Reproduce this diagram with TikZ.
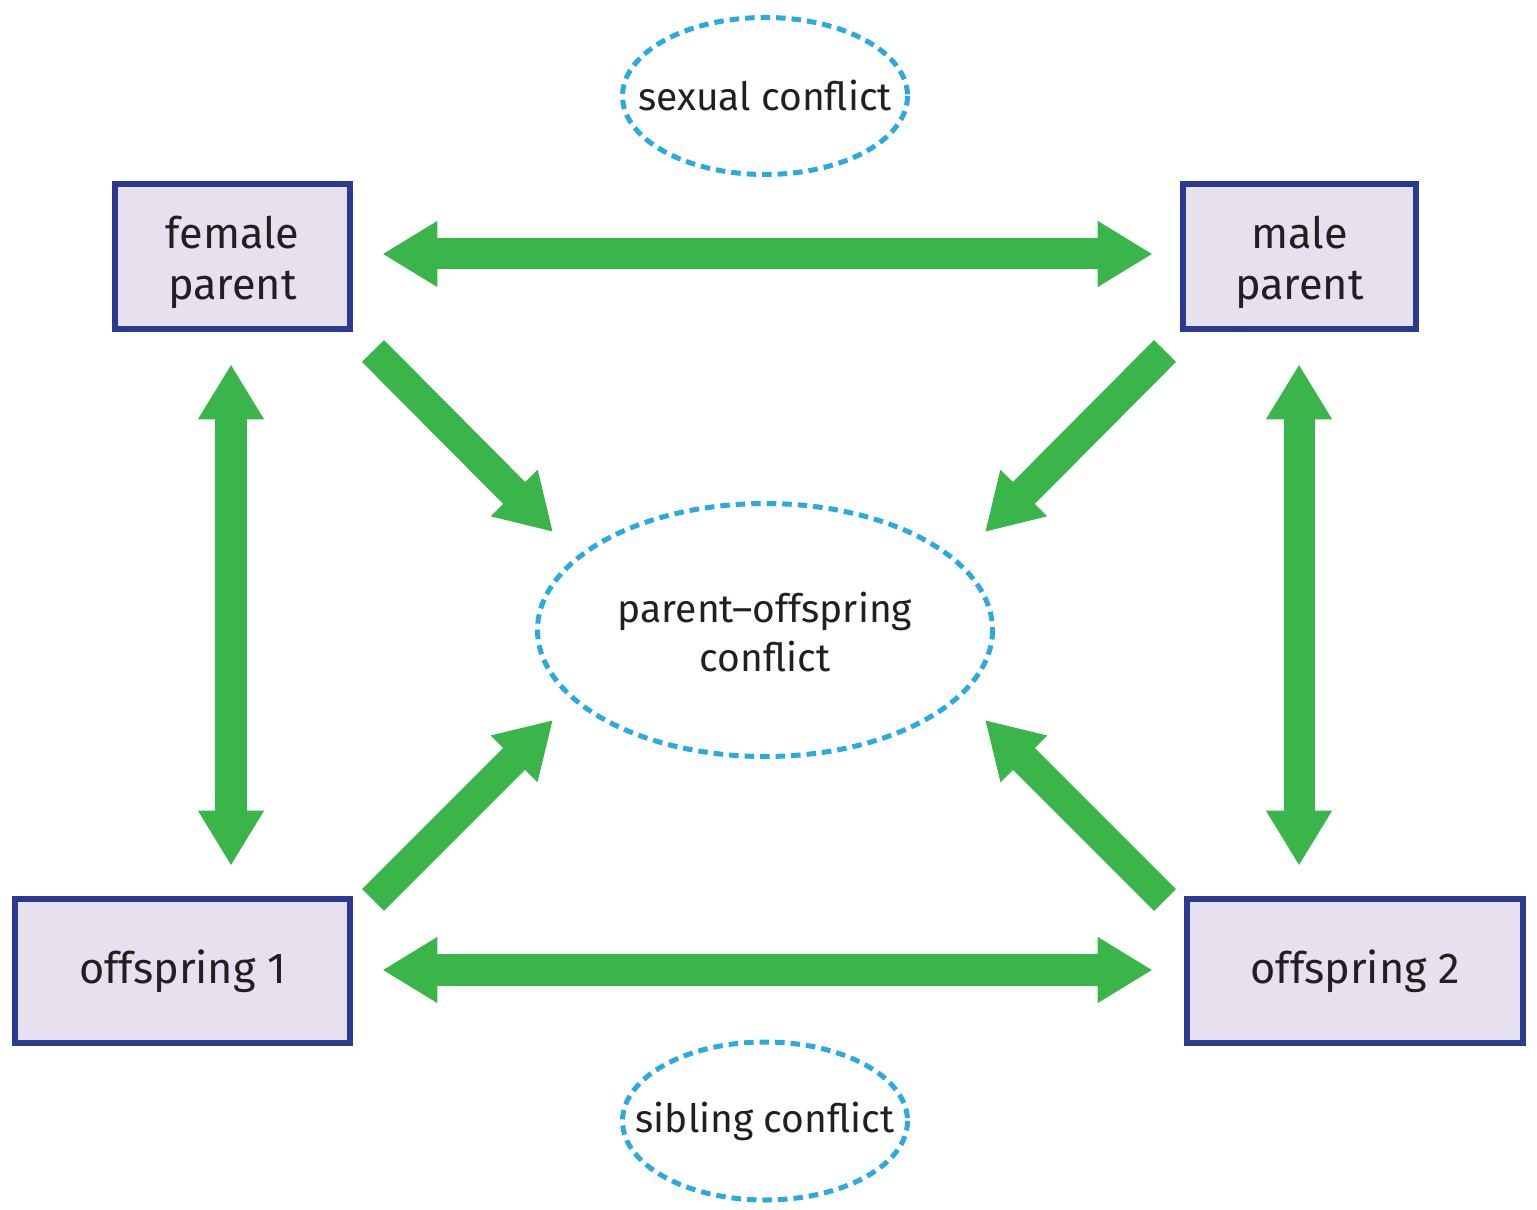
\documentclass[tikz,border=0pt]{standalone}
\usepackage{fontspec}
\setmainfont{Fira Sans}
\usetikzlibrary{arrows.meta,shapes.geometric}
\definecolor{arrgreen}{HTML}{39B54A}
\definecolor{boxblue}{HTML}{2B3990}
\definecolor{boxfill}{HTML}{E7E0EF}
\definecolor{dashblue}{HTML}{29ABE2}
\definecolor{txt}{HTML}{231F20}
\newcommand{\topstrut}{\rule{0pt}{12.5pt}}
\tikzset{
  agent/.style={draw=boxblue, fill=boxfill, line width=0.065cm, inner sep=0pt,
    align=center, text=txt, font=\fontsize{12.3pt}{14.6pt}\selectfont},
  conflabel/.style={inner sep=0pt, align=center, text=txt,
    font=\fontsize{11.1pt}{14.2pt}\selectfont},
  confring/.style={draw=dashblue, line width=0.05cm,
    dash pattern=on 0.095cm off 0.06cm},
  bigarrow/.style={draw=arrgreen, line width=0.31cm,
    -{Triangle[width=0.62cm,length=0.55cm]}},
  dblarrow/.style={draw=arrgreen, line width=0.31cm,
    {Triangle[width=0.62cm,length=0.55cm]}-{Triangle[width=0.62cm,length=0.55cm]}}
}
\begin{document}
\begin{tikzpicture}[x=0.01cm,y=-0.01cm]
\useasboundingbox (0,0) rectangle (1537,1210);
% agent nodes
\node[agent, minimum width=2.35cm, minimum height=1.45cm] (fp) at (232.5,256.5) {\topstrut female\\parent};
\node[agent, minimum width=2.33cm, minimum height=1.45cm] (mp) at (1299.5,256.5) {\topstrut male\\parent};
\node[agent, minimum width=3.35cm, minimum height=1.44cm] (o1) at (182.5,971) {offspring 1};
\node[agent, minimum width=3.36cm, minimum height=1.44cm] (o2) at (1355,971) {offspring 2};
% conflict ellipses
\draw[confring] (765,96) ellipse [x radius=142.5, y radius=78.5];
\node[conflabel] (sc) at (765,96) {sexual conflict};
\draw[confring] (765,630) ellipse [x radius=227.5, y radius=126.5];
\node[conflabel] (pc) at (765,632) {parent–offspring\\conflict};
\draw[confring] (765,1121) ellipse [x radius=142.5, y radius=79];
\node[conflabel] (sib) at (765,1121) {sibling conflict};
% diagonal arrow ends
\coordinate (tlT) at (373,351); \coordinate (tlH) at (553,532);
\coordinate (trT) at (1165,351); \coordinate (trH) at (985,532);
\coordinate (blT) at (373,900); \coordinate (blH) at (553,720);
\coordinate (brT) at (1165,900); \coordinate (brH) at (985,720);
% double arrows
\draw[dblarrow, shorten <=0.29cm, shorten >=0.27cm] (fp.east |- 0,254) -- (mp.west |- 0,254);
\draw[dblarrow, shorten <=0.29cm, shorten >=0.31cm] (o1.east |- 0,970) -- (o2.west |- 0,970);
\draw[dblarrow, shorten <=0.32cm, shorten >=0.30cm] (fp.south -| 231,0) -- (o1.north -| 231,0);
\draw[dblarrow, shorten <=0.32cm, shorten >=0.30cm] (mp.south -| 1299,0) -- (o2.north -| 1299,0);
% single arrows
\draw[bigarrow] (tlT) -- (tlH);
\draw[bigarrow] (trT) -- (trH);
\draw[bigarrow] (blT) -- (blH);
\draw[bigarrow] (brT) -- (brH);
\end{tikzpicture}
\end{document}
